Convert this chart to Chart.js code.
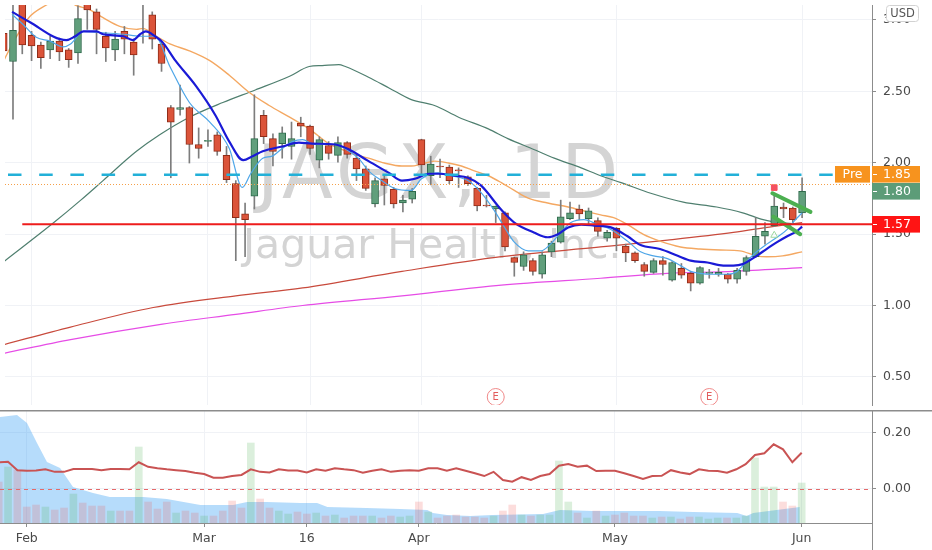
<!DOCTYPE html>
<html><head><meta charset="utf-8">
<script src="https://cdn.jsdelivr.net/npm/chart.js"></script>
<style>
html,body{margin:0;padding:0;background:#fff;}
#wrap{position:relative;width:932px;height:550px;overflow:hidden;background:#fff;}
#c1{position:absolute;left:0;top:0;width:932px;height:410px;}
#c2{position:absolute;left:0;top:410px;width:932px;height:140px;}
</style></head><body>
<div id="wrap">
<canvas id="c1" width="932" height="410"></canvas>
<canvas id="c2" width="932" height="140"></canvas>
</div>
<script>
// ---------- DATA ----------
const opens  = [2.907,2.709,3.15,2.893,2.825,2.791,2.852,2.791,2.770,3.13,3.057,2.886,2.791,2.920,2.845,3.12,3.037,2.831,2.387,2.374,2.387,2.128,2.150,2.196,2.052,1.854,1.642,1.765,2.333,2.169,2.134,2.114,2.278,2.257,2.018,2.121,2.052,2.141,2.032,1.957,1.711,1.888,1.813,1.718,1.745,2.162,1.909,1.977,1.970,1.950,1.902,1.820,1.700,1.676,1.649,1.335,1.273,1.314,1.219,1.376,1.444,1.608,1.676,1.608,1.594,1.471,1.540,1.417,1.369,1.287,1.232,1.314,1.178,1.260,1.225,1.157,1.225,1.219,1.219,1.184,1.239,1.342,1.485,1.560,1.690,1.683,1.649];
const highs  = [2.93,3.12,3.20,2.92,2.845,2.886,2.873,2.80,3.10,3.16,3.077,2.914,2.920,2.955,2.866,3.25,3.057,2.845,2.401,2.544,2.394,2.244,2.230,2.216,2.114,1.875,1.718,2.476,2.367,2.203,2.251,2.285,2.319,2.264,2.182,2.148,2.182,2.148,2.052,1.977,1.895,1.909,1.827,1.772,1.820,2.165,2.046,2.025,1.984,1.964,1.909,1.827,1.772,1.697,1.656,1.340,1.376,1.328,1.376,1.451,1.738,1.724,1.704,1.683,1.615,1.526,1.547,1.430,1.376,1.301,1.328,1.342,1.307,1.294,1.239,1.273,1.253,1.260,1.225,1.260,1.348,1.615,1.581,1.786,1.718,1.690,1.895];
const lows   = [2.76,2.305,2.763,2.715,2.661,2.729,2.715,2.668,2.695,2.934,2.763,2.709,2.715,2.763,2.613,2.838,2.797,2.640,1.895,2.333,1.998,2.032,2.114,2.052,1.861,1.314,1.342,1.676,2.134,1.977,2.032,2.025,2.182,2.059,1.964,2.025,2.004,2.032,1.875,1.806,1.690,1.704,1.683,1.656,1.718,1.923,1.847,1.895,1.854,1.827,1.841,1.663,1.690,1.581,1.383,1.205,1.246,1.212,1.191,1.342,1.437,1.601,1.601,1.567,1.485,1.451,1.383,1.307,1.301,1.205,1.225,1.212,1.171,1.191,1.102,1.150,1.191,1.205,1.157,1.157,1.212,1.335,1.430,1.553,1.615,1.581,1.615];
const closes = [2.784,2.927,2.825,2.818,2.736,2.852,2.777,2.722,3.009,3.071,2.934,2.804,2.866,2.866,2.756,3.16,2.866,2.695,2.285,2.387,2.128,2.100,2.155,2.080,1.882,1.615,1.601,2.169,2.182,2.080,2.210,2.169,2.257,2.100,2.162,2.066,2.141,2.059,1.957,1.820,1.875,1.841,1.711,1.738,1.800,1.984,1.991,1.970,1.875,1.943,1.854,1.697,1.697,1.697,1.410,1.301,1.355,1.239,1.355,1.437,1.622,1.649,1.642,1.663,1.519,1.512,1.471,1.369,1.314,1.239,1.314,1.287,1.301,1.212,1.157,1.266,1.228,1.232,1.184,1.246,1.335,1.485,1.519,1.697,1.676,1.601,1.800];
const volume = [41,56,53,16,18,16,13,15,29,20,17,17,12,12,12,76,21,14,21,10,12,10,7,7,12,22,15,80,24,15,12,9,11,9,10,7,8,5,7,7,7,5,7,6,7,21,11,5,7,8,6,6,5,7,12,18,8,7,8,8,62,21,10,5,12,7,8,10,7,7,5,6,6,4,6,6,4,5,5,5,7,65,36,36,21,17,40];
const indicator = [0.095,0.097,0.067,0.065,0.066,0.070,0.061,0.061,0.071,0.071,0.071,0.067,0.071,0.071,0.070,0.095,0.079,0.074,0.070,0.067,0.064,0.058,0.053,0.040,0.040,0.046,0.050,0.070,0.061,0.059,0.070,0.066,0.066,0.059,0.070,0.065,0.074,0.070,0.067,0.058,0.065,0.070,0.061,0.065,0.067,0.065,0.074,0.074,0.065,0.074,0.065,0.056,0.046,0.061,0.032,0.026,0.042,0.032,0.046,0.053,0.083,0.089,0.079,0.083,0.064,0.065,0.065,0.056,0.046,0.036,0.046,0.047,0.067,0.059,0.053,0.070,0.065,0.064,0.058,0.070,0.088,0.121,0.127,0.159,0.141,0.095,0.129];

// moving averages (candle index, price)
const fastMaX = [0.9,2.1,3.5,5,6.4,7.2,8.6,10,12.9,14.7,16.3,17.9,20,22.2,24.3,25.7,26.6,27.9,28.9,30,31.1,32.2,33.2,34.3,35.7,37.2,38.3,39.3,40.7,42.1,43.9,45,46.1,46.8,48.2,50,51.4,52.8,53.9,55,56.5,57.9,58.9,60,61.1,62.5,64,65.4,67.2,68.6,70,71.5,72.9,74,75,76.4,77.9,79,80,81.1,82.2,83.3,84.4,85,86];
const fastMaY = [3.04,2.968,2.879,2.852,2.811,2.832,2.920,2.914,2.900,2.886,2.886,2.674,2.422,2.285,2.100,1.827,1.923,2.032,2.046,2.100,2.148,2.162,2.134,2.128,2.128,2.080,2.025,1.943,1.875,1.820,1.806,1.888,1.923,1.929,1.909,1.875,1.793,1.670,1.553,1.444,1.383,1.383,1.430,1.512,1.581,1.601,1.567,1.533,1.451,1.376,1.348,1.328,1.280,1.239,1.225,1.219,1.219,1.239,1.307,1.376,1.430,1.478,1.533,1.581,1.649];
const midMaX = [0.9,2.7,6.75,7.7,8.6,10,10.7,12.9,13.9,14.7,15.3,16.3,17.1,18.5,20.7,22.8,24.3,25.8,26.8,27.9,30,31.8,33.2,35.7,37.2,39.3,41.5,42.9,44.3,45.8,46.8,48.6,50,51.4,53.6,55,57.1,58.6,59.7,60.8,62.2,63.6,65.4,67.2,68.6,70.7,72.6,74,75.8,77.5,78.6,79.6,81.1,82.2,83.3,84.4,85.4,86];
const midMaY = [3.057,2.989,2.859,2.886,2.920,2.920,2.900,2.886,2.859,2.900,2.920,2.886,2.845,2.715,2.538,2.333,2.148,2.018,2.046,2.080,2.114,2.141,2.134,2.128,2.093,2.011,1.929,1.875,1.888,1.923,1.923,1.909,1.895,1.841,1.670,1.581,1.512,1.478,1.499,1.547,1.567,1.560,1.547,1.485,1.424,1.396,1.348,1.314,1.301,1.280,1.280,1.290,1.348,1.397,1.444,1.485,1.519,1.553];
const ma20X = [0,1.1,2.7,4.6,6.2,7.7,9.3,10.7,12.5,14.3,15,16.1,17.9,20,22.2,24.3,26.5,28.6,30.8,32.9,35,36.4,37.8,39.3,41,42.9,43.9,45,46.4,47.9,49.3,50.7,52.2,53.6,55,56.5,58.6,60.8,62.9,64.3,65.7,67.2,68.9,70.7,72.9,75,77.2,79.3,81.1,82.2,83.9,86];
const ma20Y = [2.715,2.852,3.016,3.105,3.16,3.105,3.071,3.016,2.955,2.934,2.941,2.900,2.832,2.784,2.715,2.613,2.490,2.401,2.319,2.237,2.134,2.093,2.059,2.032,1.998,1.977,1.977,1.991,2.011,1.998,1.977,1.943,1.909,1.861,1.806,1.752,1.718,1.690,1.656,1.635,1.615,1.567,1.499,1.451,1.410,1.396,1.389,1.383,1.348,1.342,1.348,1.376];
const ma50X = [0,5.4,8.3,10.7,14.3,16.8,20,23.6,27.1,30.8,32.9,34.3,36.1,36.8,39.3,41.5,43.9,46.4,49,52.2,54.3,57.1,59.3,62.2,64.3,66.5,69.7,73.2,76.8,79.6,81.8,82.8,86];
const ma50Y = [1.307,1.581,1.738,1.875,2.080,2.196,2.319,2.422,2.510,2.606,2.674,2.681,2.688,2.674,2.599,2.524,2.442,2.401,2.319,2.237,2.169,2.093,2.032,1.964,1.909,1.861,1.786,1.724,1.690,1.649,1.601,1.588,1.567];
const ma100X = [0,7.2,16.1,25,32.2,42.9,53.6,64.3,71.5,78.6,82.8,86];
const ma100Y = [0.726,0.849,0.986,1.068,1.123,1.239,1.342,1.410,1.458,1.512,1.553,1.581];
const ma200X = [0,7.2,17.1,25,32.2,42.9,53.6,64.3,71.5,78.6,86];
const ma200Y = [0.665,0.761,0.870,0.938,1.000,1.068,1.143,1.191,1.225,1.239,1.266];
// volume average area (index, height)
const volMaX = [0.14,1.96,3.03,4.1,5.17,6.57,7.96,10.1,11.9,14.4,15.5,18,21.6,25.1,26.6,28.7,32.3,34.1,35.2,39.4,43,45.9,46.5,48,50.5,52.9,58.3,60.1,63.6,70.8,74.4,79.1,80.1,80.8,85.8];
const volMaY = [106,108,100,80,61,55,36,30,26,26,26,24,18,18,21,21,20,20,16,15,14,13,10,8,7,8,9,13,12,12,11,10,7,10,16];

const flagUpperX = [82.8,86.9], flagUpperY = [1.786,1.656];
const flagLowerX = [82.9,85.8], flagLowerY = [1.622,1.499];
const signalSquare = {x:83, y:1.826};
const signalTriangle = {x:83, y:1.492};
const earningsIdx = [53,76];

const xTickIndex  = [3,22,33,45,66,86];
const xTickLabels = ['Feb','Mar','16','Apr','May','Jun'];
const priceTicks = [0.5,1.0,1.5,2.0,2.5,3.0];
const oscTicks = [0.0,0.2];

const levelCyan = 1.916, levelPre = 1.85, levelRed = 1.57, redLineStartIdx = 2;
const lastClose = closes[closes.length-1];

// ---------- STYLE ----------
const FONT = "'DejaVu Sans', sans-serif";
const X_MIN = 0.139, X_MAX = 93.53;
const AXIS = '#8c8c8c', GRID = '#f0f2f6', TXT = '#4a4a4a';
const isUp = opens.map((o,i)=>closes[i]>=o);
const pts = (xs, ys) => xs.map((x,i)=>({x:x, y:ys[i]}));
const lineDs = (data, color, w, order) => ({type:'line', data, borderColor:color, borderWidth:w, pointRadius:0, fill:false, cubicInterpolationMode:'monotone', order});
const noPadX = s => { s.paddingLeft = 0; s.paddingRight = 0; };
const noPadY = s => { s.paddingTop = 0; s.paddingBottom = 0; };

const xScaleBase = {
  type:'linear', min:X_MIN, max:X_MAX, offset:false,
  afterBuildTicks: s => { s.ticks = xTickIndex.map(v=>({value:v})); }
};

// ---------- MAIN PANEL ----------
const mainPlugin = {
  id:'mainDeco',
  beforeDatasetsDraw(chart){
    const ctx = chart.ctx;
    ctx.save();
    ctx.fillStyle = '#d4d4d4';
    ctx.textAlign = 'left'; ctx.textBaseline = 'alphabetic';
    ctx.font = '74px ' + FONT;
    try { ctx.letterSpacing = '4.6px'; } catch(e){}
    ctx.fillText('JAGX, 1D', 257, 198);
    try { ctx.letterSpacing = '0px'; } catch(e){}
    ctx.font = '41px ' + FONT;
    ctx.fillText('Jaguar Health, Inc.', 243, 258);
    ctx.restore();
  },
  afterDatasetsDraw(chart){
    const ctx = chart.ctx, xs = chart.scales.x, ys = chart.scales.y, a = chart.chartArea;
    ctx.save();
    ctx.beginPath(); ctx.rect(a.left, a.top, a.right-a.left, a.bottom-a.top); ctx.clip();
    let y = Math.round(ys.getPixelForValue(levelPre))+0.5;
    ctx.strokeStyle = '#f5a04a'; ctx.lineWidth = 1; ctx.setLineDash([1,2]);
    ctx.beginPath(); ctx.moveTo(a.left, y); ctx.lineTo(a.right, y); ctx.stroke();
    y = ys.getPixelForValue(levelCyan);
    ctx.strokeStyle = '#22b0d8'; ctx.lineWidth = 2.5; ctx.setLineDash([13.5,17.7]); ctx.lineDashOffset = -3;
    ctx.beginPath(); ctx.moveTo(a.left, y); ctx.lineTo(a.right, y); ctx.stroke();
    ctx.setLineDash([]); ctx.lineDashOffset = 0;
    y = ys.getPixelForValue(levelRed);
    ctx.strokeStyle = '#ee1c1c'; ctx.lineWidth = 2;
    ctx.beginPath(); ctx.moveTo(xs.getPixelForValue(redLineStartIdx), y); ctx.lineTo(a.right, y); ctx.stroke();
    earningsIdx.forEach(i => {
      const px = xs.getPixelForValue(i), py = 397;
      ctx.beginPath(); ctx.arc(px, py, 8.5, 0, Math.PI*2);
      ctx.fillStyle = '#fff'; ctx.fill();
      ctx.strokeStyle = '#f08a8a'; ctx.lineWidth = 1; ctx.stroke();
      ctx.fillStyle = '#e25c5c'; ctx.font = '10px ' + FONT; ctx.textAlign = 'center'; ctx.textBaseline = 'middle';
      ctx.fillText('E', px, py+0.5);
    });
    ctx.restore();
  },
  afterDraw(chart){
    const ctx = chart.ctx, ys = chart.scales.y, a = chart.chartArea;
    const box = (x, cy, w, fill, text, tick, tx) => {
      ctx.fillStyle = fill; ctx.fillRect(x, Math.round(cy-8.3), w, 16.6);
      if (tick){ ctx.fillStyle = '#fff'; ctx.fillRect(x+1, Math.round(cy), 4, 1); }
      ctx.fillStyle = '#fff'; ctx.font = '12.5px ' + FONT; ctx.textBaseline = 'middle';
      ctx.textAlign = tx === undefined ? 'center' : 'left';
      ctx.fillText(text, tx === undefined ? x + w/2 : tx, cy+0.5);
    };
    ctx.save();
    const yClose = ys.getPixelForValue(lastClose);
    const yPre = yClose - 17;
    box(835, yPre, 35, '#f7931e', 'Pre');
    box(a.right, yPre, 48, '#f7931e', levelPre.toFixed(2), true, a.right+11);
    box(a.right, yClose, 48, '#5c9c78', lastClose.toFixed(2), true, a.right+11);
    box(a.right, ys.getPixelForValue(levelRed), 48, '#ff1414', levelRed.toFixed(2), true, a.right+11);
    ctx.beginPath();
    if (ctx.roundRect) ctx.roundRect(886.5, 5.5, 32, 16, 3); else ctx.rect(886.5,5.5,32,16);
    ctx.fillStyle = '#fff'; ctx.fill(); ctx.strokeStyle = '#d2d2d2'; ctx.lineWidth = 1; ctx.stroke();
    ctx.fillStyle = '#555'; ctx.font = '11.5px ' + FONT; ctx.textAlign = 'center'; ctx.textBaseline = 'middle';
    ctx.fillText('USD', 902.5, 14);
    ctx.restore();
  }
};

new Chart(document.getElementById('c1'), {
  type:'bar',
  data:{ datasets:[
    lineDs(pts(ma200X, ma200Y), '#e64ce6', 1.2, 20),
    lineDs(pts(ma100X, ma100Y), '#c84a3c', 1.2, 19),
    lineDs(pts(ma50X, ma50Y), '#4f7f6f', 1.2, 18),
    lineDs(pts(ma20X, ma20Y), '#f4a862', 1.4, 17),
    {type:'bar', data: lows.map((l,i)=>({x:i, y:[l, highs[i]]})), backgroundColor:'#7d7d7d', barThickness:1, grouped:false, order:12},
    {type:'bar', data: opens.map((o,i)=>({x:i, y:[o, closes[i]]})),
      backgroundColor: isUp.map(u=>u?'#619f7c':'#db543a'), borderColor: isUp.map(u=>u?'#2f6a4c':'#8f2c18'),
      borderWidth:1, borderSkipped:false, barThickness:7, minBarLength:1, grouped:false, order:11},
    lineDs(pts(fastMaX, fastMaY), '#4ea6e8', 1.2, 6),
    lineDs(pts(midMaX, midMaY), '#1a1ad6', 2.2, 5),
    {type:'line', data: pts(flagUpperX, flagUpperY), borderColor:'#4caf50', borderWidth:4, borderCapStyle:'round', pointRadius:0, order:3},
    {type:'line', data: pts(flagLowerX, flagLowerY), borderColor:'#4caf50', borderWidth:4, borderCapStyle:'round', pointRadius:0, order:3},
    {type:'line', data:[signalSquare], showLine:false, pointStyle:'rect', pointRadius:4, backgroundColor:'#f5515f', borderColor:'#f5515f', order:2},
    {type:'line', data:[signalTriangle], showLine:false, pointStyle:'triangle', pointRadius:4, backgroundColor:'rgba(0,0,0,0)', borderColor:'#9ed89f', borderWidth:1, order:2}
  ]},
  options:{
    responsive:false, animation:false, devicePixelRatio:1,
    layout:{padding:0},
    plugins:{legend:{display:false}, tooltip:{enabled:false}},
    scales:{
      x: Object.assign({}, xScaleBase, {
        display:true, ticks:{display:false}, grid:{color:GRID, drawTicks:false, offset:false}, border:{display:false},
        afterFit: s => { s.height = 0; noPadX(s); }
      }),
      y:{
        position:'right', min:0.303, max:3.105,
        afterBuildTicks: s => { s.ticks = priceTicks.map(v=>({value:v})); },
        afterFit: s => { s.width = 60; noPadY(s); },
        ticks:{font:{family:FONT, size:12.5}, color:TXT, padding:7, callback:v=>Number(v).toFixed(2)},
        grid:{color:GRID, tickColor:AXIS, tickLength:4},
        border:{color:AXIS, width:1}
      }
    }
  },
  plugins:[mainPlugin]
});

// ---------- LOWER PANEL ----------
const lowerPlugin = {
  id:'lowerDeco',
  afterDatasetsDraw(chart){
    const ctx = chart.ctx, ys = chart.scales.y, a = chart.chartArea;
    ctx.save();
    const y = Math.round(ys.getPixelForValue(0))+0.5;
    ctx.strokeStyle = '#e46a6a'; ctx.lineWidth = 1; ctx.setLineDash([4,4]);
    ctx.beginPath(); ctx.moveTo(a.left, y); ctx.lineTo(a.right, y); ctx.stroke();
    ctx.restore();
  },
  afterDraw(chart){
    const ctx = chart.ctx, a = chart.chartArea;
    ctx.save();
    ctx.strokeStyle = '#8c8c8c'; ctx.lineWidth = 1.5;
    ctx.beginPath(); ctx.moveTo(0, 0.75); ctx.lineTo(932, 0.75); ctx.stroke();
    ctx.lineWidth = 1;
    ctx.beginPath(); ctx.moveTo(a.right+0.5, a.bottom); ctx.lineTo(a.right+0.5, 140); ctx.stroke();
    ctx.restore();
  }
};

new Chart(document.getElementById('c2'), {
  type:'bar',
  data:{ datasets:[
    {type:'line', data: indicator.map((v,i)=>({x:i, y:v})), yAxisID:'y', borderColor:'#c95353', borderWidth:2, pointRadius:0, fill:false, tension:0, order:0},
    {type:'bar', data: volume.map((v,i)=>({x:i, y:v})), yAxisID:'yv',
      backgroundColor: isUp.map(u=>u?'rgba(76,175,80,0.2)':'rgba(239,83,80,0.2)'), barThickness:7, grouped:false, order:1},
    {type:'line', data: pts(volMaX, volMaY), yAxisID:'yv', fill:'origin', backgroundColor:'rgba(33,150,243,0.33)', borderWidth:0, pointRadius:0, tension:0, order:2}
  ]},
  options:{
    responsive:false, animation:false, devicePixelRatio:1,
    layout:{padding:0},
    plugins:{legend:{display:false}, tooltip:{enabled:false}},
    scales:{
      x: Object.assign({}, xScaleBase, {
        ticks:{font:{family:FONT, size:12.5}, color:TXT, padding:4, maxRotation:0, autoSkip:false,
          callback: v => { const k = xTickIndex.indexOf(v); return k>=0 ? xTickLabels[k] : ''; }},
        grid:{color:GRID, tickColor:AXIS, tickLength:4, offset:false},
        border:{color:AXIS, width:1},
        afterFit: s => { s.height = 27; noPadX(s); }
      }),
      y:{
        position:'right', min:-0.121, max:0.281,
        afterBuildTicks: s => { s.ticks = oscTicks.map(v=>({value:v})); },
        afterFit: s => { s.width = 60; noPadY(s); },
        ticks:{font:{family:FONT, size:12.5}, color:TXT, padding:7, callback:v=>Number(v).toFixed(2)},
        grid:{color:GRID, tickColor:AXIS, tickLength:4},
        border:{color:AXIS, width:1}
      },
      yv:{display:false, min:0, max:113, afterFit: noPadY}
    }
  },
  plugins:[lowerPlugin]
});
</script>
</body></html>
